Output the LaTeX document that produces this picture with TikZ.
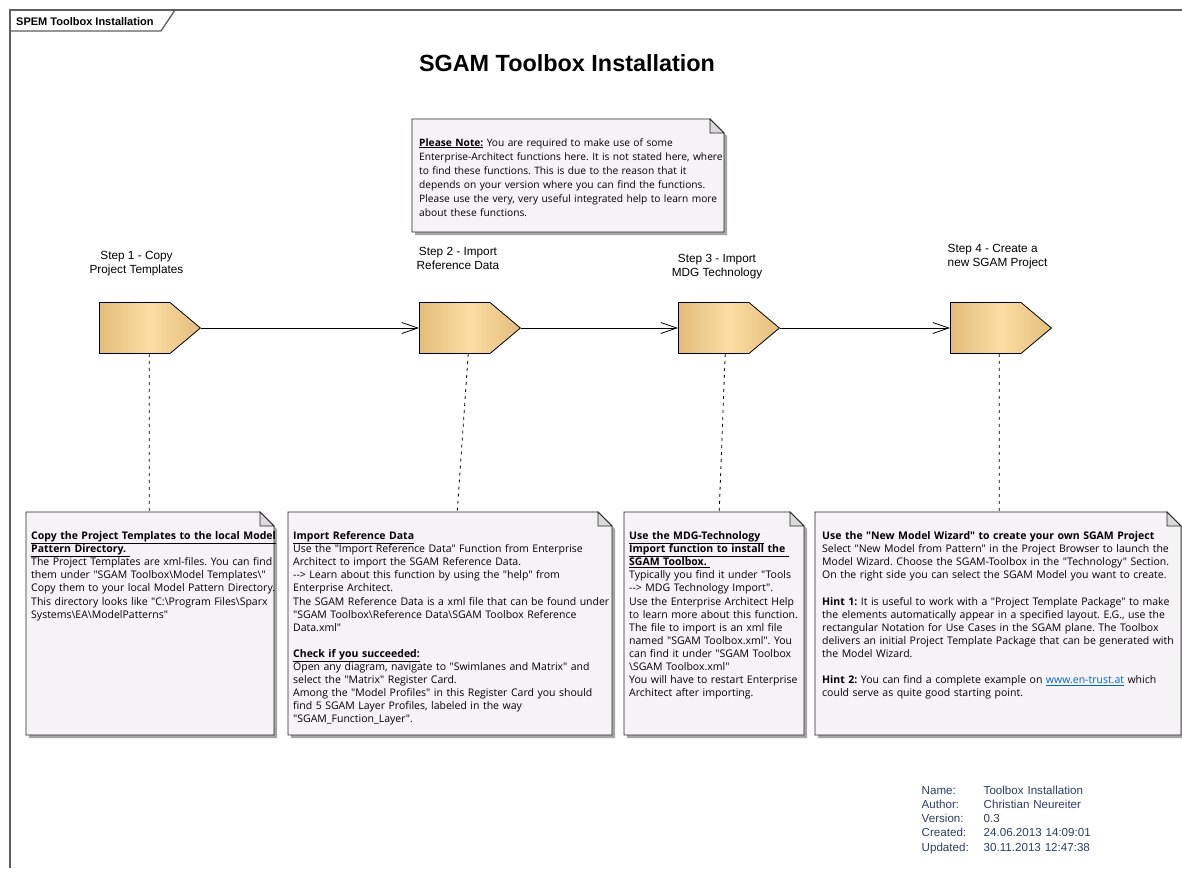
\documentclass[tikz,border=0pt]{standalone}
\usepackage{fontspec}
\setmainfont{Liberation Sans}
\newfontfamily\notefont{Open Sans}
\usetikzlibrary{shapes.symbols,arrows.meta,calc}
\frenchspacing

\definecolor{notebg}{RGB}{246,243,247}
\definecolor{noteshadow}{RGB}{165,165,165}
\definecolor{foldgray}{RGB}{218,218,218}
\definecolor{steplight}{RGB}{253,222,164}
\definecolor{stepdark}{RGB}{226,188,124}
\definecolor{framegray}{RGB}{95,95,95}
\definecolor{infoblue}{RGB}{44,62,100}
\definecolor{linkblue}{RGB}{0,102,204}

\newcommand\hlink[1]{{\color{linkblue}\underline{#1}}}
\newcommand\bs{\textbackslash}

\tikzset{
  frameline/.style={draw=framegray, line width=1.3pt},
  notebody/.style={fill=notebg, draw=black!85, line width=0.8pt, line join=miter},
  notefold/.style={fill=foldgray, draw=black!85, line width=0.8pt},
  notetext/.style={anchor=base west, inner sep=0pt, align=left, text width=420pt,
    font=\notefont\fontsize{10.5}{13.1}\selectfont},
  stepshape/.style={signal, signal to=east, signal pointer angle=80,
    draw=black, line width=0.8pt, anchor=west,
    left color=stepdark, right color=stepdark, middle color=steplight,
    minimum width=101pt, minimum height=51pt, inner sep=0pt},
  steplabel/.style={anchor=base, inner sep=0pt, align=center,
    font=\fontsize{11.8}{14}\selectfont},
  flow/.style={draw=black, line width=0.8pt, -{Straight Barb[length=16pt,width=11pt,line width=0.8pt]}},
  tether/.style={draw=black, line width=0.8pt, dash pattern=on 3pt off 4pt},
  infotext/.style={anchor=base west, inner sep=0pt, align=left, text width=220pt,
    text=infoblue, font=\fontsize{11.6}{14.25}\selectfont},
}

% note with a folded top-right corner: name, x1, y1, x2, y2
\newcommand\notebox[5]{%
  \fill[noteshadow] (#2+3,#3+3) -- (#4+3-14,#3+3) -- (#4+3,#3+17) -- (#4+3,#5+3) -- (#2+3,#5+3) -- cycle;
  \filldraw[notebody] (#2,#3) -- (#4-14,#3) -- (#4,#3+14) -- (#4,#5) -- (#2,#5) -- cycle;
  \filldraw[notefold] (#4-14,#3) -- (#4-14,#3+14) -- (#4,#3+14) -- cycle;
  \node[inner sep=0pt, minimum width={(#4-#2)*1pt}, minimum height={(#5-#3)*1pt},
        anchor=north west] (#1) at (#2,#3) {};
}

\begin{document}
\begin{tikzpicture}[x=1pt, y=-1pt]
\useasboundingbox (0,0) rectangle (1182,868);
\fill[white] (0,0) rectangle (1182,868);

% diagram frame with its name tab
\draw[frameline] (10,868) -- (10,10) -- (1182,10);
\draw[frameline] (10,31) -- (161,31) -- (175,10);
\node[anchor=base west, inner sep=0pt, font=\bfseries\fontsize{11}{13}\selectfont] (tab) at (16,25) {SPEM Toolbox Installation};

% title
\node[anchor=base, inner sep=0pt, font=\bfseries\fontsize{23.4}{28}\selectfont] (title) at (567,71) {SGAM Toolbox Installation};

% general remark
\notebox{n0}{412}{119}{724}{232}
\node[notetext, font=\notefont\fontsize{10.2}{14}\selectfont] (t0) at (419,146) {%
\underline{\textbf{Please Note:}} You are required to make use of some\\
Enterprise-Architect functions here. It is not stated here, where\\
to find these functions. This is due to the reason that it\\
depends on your version where you can find the functions.\\
Please use the very, very useful integrated help to learn more\\
about these functions.};

% process steps
\node[stepshape] (s1) at (99,328) {};
\node[stepshape] (s2) at (419,328) {};
\node[stepshape] (s3) at (678,328) {};
\node[stepshape] (s4) at (950,328) {};

\node[steplabel] (l1) at (136.5,273) {Step 1 - Copy\\Project Templates};
\node[steplabel] (l2) at (458,269.5) {Step 2 - Import\\Reference Data};
\node[steplabel] (l3) at (717,276.5) {Step 3 - Import\\MDG Technology};
\node[steplabel, anchor=base west, align=left] (l4) at (947.5,266.5) {Step 4 - Create a\\new SGAM Project};

\draw[flow] (s1.east) -- (s2.west);
\draw[flow] (s2.east) -- (s3.west);
\draw[flow] (s3.east) -- (s4.west);

% step descriptions
\notebox{n1}{26}{512}{274}{735}
\notebox{n2}{288}{512}{612}{735}
\notebox{n3}{624}{512}{804}{735}
\notebox{n4}{815}{512}{1181}{735}

\draw[tether] ([xshift=14.5pt]s1.south) -- ([xshift=-1pt]n1.north);
\draw[tether] ([xshift=13.5pt]s2.south) -- ([xshift=7pt]n2.north);
\draw[tether] ([xshift=11.5pt]s3.south) -- ([xshift=5pt]n3.north);
\draw[tether] ([xshift=13.5pt]s4.south) -- ([xshift=1pt]n4.north);

\node[notetext] (t1) at (31,539.5) {%
\underline{\textbf{Copy the Project Templates to the local Model}}\\
\underline{\textbf{Pattern Directory.\ }}\\
The Project Templates are xml-files. You can find\\
them under "SGAM Toolbox\bs Model Templates\bs"\\
Copy them to your local Model Pattern Directory.\\
This directory looks like "C:\bs Program Files\bs Sparx\\
Systems\bs EA\bs ModelPatterns"};

\node[notetext] (t2) at (293,539.5) {%
\underline{\textbf{Import Reference Data}}\\
Use the "Import Reference Data" Function from Enterprise\\
Architect to import the SGAM Reference Data.\\
-{}-> Learn about this function by using the "help" from\\
Enterprise Architect.\\
The SGAM Reference Data is a xml file that can be found under\\
"SGAM Toolbox\bs Reference Data\bs SGAM Toolbox Reference\\
Data.xml"\\[13.1pt]
\underline{\textbf{Check if you succeeded:}}\\
Open any diagram, navigate to "Swimlanes and Matrix" and\\
select the "Matrix" Register Card.\\
Among the "Model Profiles" in this Register Card you should\\
find 5 SGAM Layer Profiles, labeled in the way\\
"SGAM\_Function\_Layer".};

\node[notetext] (t3) at (629,539.5) {%
\underline{\textbf{Use the MDG-Technology\ }}\\
\underline{\textbf{Import function to install the\ }}\\
\underline{\textbf{SGAM Toolbox.\ }}\\
Typically you find it under "Tools\\
-{}-> MDG Technology Import".\\
Use the Enterprise Architect Help\\
to learn more about this function.\\
The file to import is an xml file\\
named "SGAM Toolbox.xml". You\\
can find it under "SGAM Toolbox\\
\bs SGAM Toolbox.xml"\\
You will have to restart Enterprise\\
Architect after importing.};

\node[notetext] (t4) at (822,539.5) {%
\textbf{Use the "New Model Wizard" to create your own SGAM Project}\\
Select "New Model from Pattern" in the Project Browser to launch the\\
Model Wizard. Choose the SGAM-Toolbox in the "Technology" Section.\\
On the right side you can select the SGAM Model you want to create.\\[13.1pt]
\textbf{Hint 1:} It is useful to work with a "Project Template Package" to make\\
the elements automatically appear in a specified layout. E.G., use the\\
rectangular Notation for Use Cases in the SGAM plane. The Toolbox\\
delivers an initial Project Template Package that can be generated with\\
the Model Wizard.\\[13.1pt]
\textbf{Hint 2:} You can find a complete example on \hlink{www.en-trust.at} which\\
could serve as quite good starting point.};

% diagram properties
\node[infotext] (meta) at (921.5,794) {%
\makebox[62pt][l]{Name:}Toolbox Installation\\
\makebox[62pt][l]{Author:}Christian Neureiter\\
\makebox[62pt][l]{Version:}0.3\\
\makebox[62pt][l]{Created:}24.06.2013 14:09:01\\
\makebox[62pt][l]{Updated:}30.11.2013 12:47:38};
\end{tikzpicture}
\end{document}
